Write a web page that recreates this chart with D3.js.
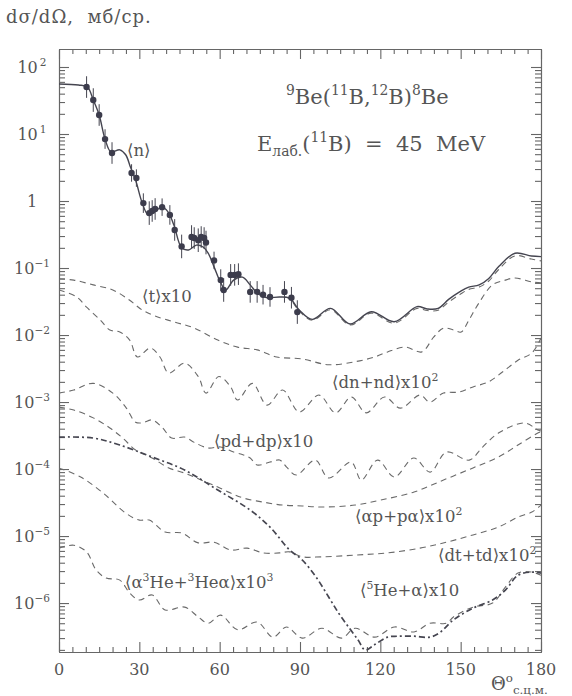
<!DOCTYPE html>
<html>
<head>
<meta charset="utf-8">
<script src="https://cdn.jsdelivr.net/npm/d3@7"></script>
<style>
  body { margin: 0; background: #fff; }
  svg { display: block; }
  text { font-family: "DejaVu Serif", "Liberation Serif", serif; fill: #555; }
  .axis path, .axis line { stroke: #666; stroke-width: 1.1; }
</style>
</head>
<body>
<svg id="chart"></svg>
<script>
// ---- data (theta in degrees c.m., cross sections in mb/sr) ----
const nTheta = [0, 7.3, 10.6, 12.8, 15.0, 17.2, 19.4, 22.7, 24.9, 26.7, 28.6, 31.1, 33.3, 35.5, 38.5, 40.7, 42.9, 45.8, 48.4, 51.3,
  53.8, 55.7, 57.9, 60.4, 62.3, 65.2, 68.5, 71.4, 74.4, 77.7, 82.4, 86.1, 89.7, 94.6, 101.4, 108.7, 116.6, 125.2, 133.7, 137.5,
  141.6, 145.5, 149.6, 153.0, 156.9, 160.5, 164.2, 170.3, 176.4, 180];
const nTotal = [55.7, 53.8, 50.2, 32.1, 19.2, 8.4, 5.4, 5.8, 4.9, 3.2, 2.06, 0.93, 0.62, 0.69, 0.81, 0.69, 0.44, 0.20, 0.186, 0.22,
  0.206, 0.167, 0.104, 0.060, 0.047, 0.066, 0.073, 0.056, 0.041, 0.036, 0.037, 0.0355, 0.0237, 0.0171, 0.025, 0.0146, 0.0223, 0.0158, 0.0265, 0.0245,
  0.025, 0.034, 0.044, 0.052, 0.056, 0.07, 0.105, 0.166, 0.151, 0.148];

const nPartTheta = [84.2, 86.1, 89.7, 94.6, 101.4, 108.7, 116.6, 125.2, 133.7, 137.5, 141.6, 145.5, 149.6, 153.0, 156.9, 160.5, 164.2, 170.3, 176.4, 180];
const nPart = [0.037, 0.035, 0.0228, 0.0166, 0.0238, 0.0141, 0.0212, 0.0150, 0.0250, 0.0232, 0.0235, 0.031, 0.040, 0.048, 0.052, 0.064, 0.095, 0.152, 0.136, 0.128];

const expTheta = [10.3, 12.8, 15.0, 17.2, 19.8, 27.1, 28.9, 31.5, 33.7, 34.8, 35.9, 38.5, 41.4, 43.2, 45.8, 49.5, 50.5, 52.0, 53.1, 54.2,
  54.9, 57.9, 60.4, 61.5, 64.1, 65.6, 67.0, 71.4, 74.0, 76.2, 78.8, 84.2, 86.8, 89.0];
const expValue = [50.2, 32.1, 19.2, 8.4, 5.2, 2.62, 2.20, 0.93, 0.66, 0.71, 0.76, 0.81, 0.62, 0.37, 0.21, 0.29, 0.28, 0.26, 0.29, 0.28,
  0.24, 0.13, 0.066, 0.047, 0.079, 0.079, 0.081, 0.044, 0.044, 0.040, 0.037, 0.044, 0.036, 0.022];
const expError = [0.45, 0.5, 0.45, 0.4, 0.45, 0.35, 0.35, 0.4, 0.5, 0.45, 0.45, 0.35, 0.4, 0.45, 0.5, 0.5, 0.45, 0.5, 0.45, 0.45,
  0.5, 0.35, 0.45, 0.5, 0.45, 0.45, 0.45, 0.45, 0.45, 0.4, 0.4, 0.45, 0.45, 0.5];

const tTheta = [0, 5.5, 12.8, 20.1, 26.4, 31.1, 35.9, 43.2, 50.5, 59.3, 66.7, 74.0, 81.3, 90.8, 100.7, 110.6, 117.9, 122.7, 129.3, 135.5,
  139.9, 143.6, 147.3, 150.2, 153.1, 156.8, 161.9, 166.7, 170.3, 176.6, 180];
const tValue = [0.0686, 0.066, 0.056, 0.047, 0.033, 0.0236, 0.0192, 0.0156, 0.0127, 0.0084, 0.0066, 0.0060, 0.0047, 0.0044, 0.0036, 0.0040, 0.0047, 0.0056, 0.0066, 0.0056,
  0.0093, 0.0127, 0.0119, 0.0111, 0.0168, 0.030, 0.056, 0.066, 0.071, 0.062, 0.060];

const dnTheta = [0, 6.6, 10.3, 15.4, 19.0, 22.7, 26.4, 29.3, 34.1, 37.7, 41.0, 46.9, 52.0, 54.9, 59.7, 64.1, 66.7, 72.2, 77.7, 83.5,
  89.7, 97.1, 103.3, 109.2, 114.7, 121.6, 127.5, 134.8, 138.5, 143.6, 149.5, 154.6, 160.4, 165.6, 171.4, 176.6, 180];
const dnValue = [0.047, 0.037, 0.026, 0.0168, 0.0119, 0.0111, 0.0084, 0.0047, 0.0064, 0.0047, 0.0027, 0.0038, 0.0024, 0.00136, 0.0024, 0.00168, 0.00107, 0.0019, 0.00090, 0.00151,
  0.00071, 0.00127, 0.00069, 0.00119, 0.00069, 0.00119, 0.00081, 0.00127, 0.00100, 0.00136, 0.00141, 0.00168, 0.0020, 0.0028, 0.0042, 0.0054, 0.0090];

const pdTheta = [0, 5.5, 12.8, 20.1, 24.9, 28.6, 31.1, 34.8, 38.5, 42.1, 46.9, 50.5, 55.7, 60.4, 65.2, 68.9, 71.4, 74.0, 78.8, 82.4,
  85.0, 88.6, 95.7, 100.7, 109.1, 112.9, 119.0, 125.2, 132.5, 138.6, 144.7, 153.2, 158.2, 164.1, 174.0, 178.8, 180];
const pdValue = [0.00136, 0.00151, 0.0019, 0.00136, 0.00084, 0.00050, 0.00049, 0.00054, 0.00042, 0.00029, 0.00030, 0.00025, 0.000206, 0.000213, 0.000179, 0.000162, 0.000146, 0.000115, 0.000127, 0.000136,
  0.000107, 0.0000813, 0.000136, 0.0000734, 0.000127, 0.0000686, 0.000136, 0.000076, 0.000146, 0.000090, 0.000179, 0.000136, 0.000213, 0.000344, 0.000486, 0.000382, 0.00037];

const apTheta = [0, 5.5, 12.8, 19.0, 23.8, 28.6, 34.8, 41.0, 46.9, 53.1, 59.3, 64.1, 68.9, 76.2, 83.5, 90.8, 98.2, 110.6, 120.1, 132.6,
  143.6, 154.6, 164.1, 171.4, 178.8, 180];
const apValue = [0.00084, 0.00076, 0.00058, 0.00041, 0.00029, 0.000192, 0.000146, 0.000104, 0.0000871, 0.0000686, 0.0000538, 0.0000438, 0.0000369, 0.0000321, 0.0000290, 0.0000281, 0.0000271, 0.0000290, 0.0000344, 0.0000454,
  0.0000686, 0.000104, 0.000151, 0.000228, 0.000344, 0.00036];

const dtTheta = [0, 8.1, 16.5, 24.9, 30.0, 33.7, 39.6, 45.8, 52.0, 57.9, 64.1, 70.3, 76.2, 82.4, 86.1, 90.8, 98.2, 110.6, 122.7, 134.8,
  144.7, 154.6, 164.1, 171.4, 176.6, 180];
const dtValue = [0.000104, 0.000076, 0.0000438, 0.0000220, 0.0000173, 0.0000173, 0.0000115, 0.0000111, 0.0000079, 0.0000081, 0.0000062, 0.0000066, 0.0000056, 0.0000056, 0.0000058, 0.0000049, 0.0000049, 0.0000052, 0.0000056, 0.0000066,
  0.0000081, 0.0000104, 0.0000136, 0.0000192, 0.0000228, 0.000029];

const he5Theta = [0, 12.8, 22.7, 34.8, 46.9, 59.3, 71.4, 78.8, 86.1, 90.8, 96.0, 100.7, 104.4, 108.1, 111.7, 114.3, 117.9, 122.7, 126.4, 132.6,
  138.5, 142.1, 147.3, 154.6, 161.9, 166.7, 171.4, 176.6, 180];
const he5Value = [0.00030, 0.00029, 0.000228, 0.000151, 0.0000966, 0.0000486, 0.0000244, 0.0000136, 0.0000062, 0.0000044, 0.00000244, 0.00000123, 7.1e-7, 4.4e-7, 2.8e-7, 2.0e-7, 2.4e-7, 3.1e-7, 3.2e-7, 3.2e-7,
  3.1e-7, 3.6e-7, 5.6e-7, 8.4e-7, 1.11e-6, 1.56e-6, 2.6e-6, 2.9e-6, 2.8e-6];

const a3Theta = [0, 5.5, 10.3, 13.9, 17.6, 22.7, 26.4, 30.0, 34.8, 39.6, 46.9, 52.0, 55.7, 60.4, 66.7, 74.0, 79.9, 85.0, 90.8, 98.2,
  105.5, 110.6, 117.9, 125.3, 132.6, 138.5, 144.7, 147.3, 154.6, 161.9, 166.7, 171.4, 176.6, 180];
const a3Value = [6.6e-6, 7.3e-6, 5.8e-6, 3.1e-6, 2.36e-6, 2.2e-6, 1.41e-6, 1.11e-6, 1.32e-6, 7.9e-7, 8.7e-7, 6.2e-7, 5.0e-7, 6.6e-7, 4.0e-7, 5.2e-7, 3.1e-7, 4.4e-7, 3.0e-7, 4.2e-7,
  3.0e-7, 4.2e-7, 3.1e-7, 4.4e-7, 3.7e-7, 5.0e-7, 5.0e-7, 6.2e-7, 8.7e-7, 1.0e-6, 1.73e-6, 2.8e-6, 2.9e-6, 2.6e-6];

const xTickLabels = [0, 30, 60, 90, 120, 150, 180];
const yDecades = [2, 1, 0, -1, -2, -3, -4, -5, -6];

class CrossSectionPlot {

  constructor(_config) {
    this.config = {
      parentElement: _config.parentElement,
      containerWidth: _config.containerWidth || 572,
      containerHeight: _config.containerHeight || 696,
      margin: _config.margin || {top: 49, right: 31, bottom: 44, left: 59}
    };
    this.initVis();
  }

  initVis() {
    let vis = this;

    vis.width = vis.config.containerWidth - vis.config.margin.left - vis.config.margin.right;
    vis.height = vis.config.containerHeight - vis.config.margin.top - vis.config.margin.bottom;

    vis.xScale = d3.scaleLinear()
        .domain([0, 180])
        .range([0, vis.width]);
    vis.yScale = d3.scaleLog()
        .domain([1.86e-7, 185.6])
        .range([vis.height, 0]);

    // minor ticks every 5 deg, 2..9 within each decade
    vis.xMinor = d3.range(0, 181, 5).filter(d => d % 30 !== 0);
    vis.yMinor = [];
    d3.range(-7, 3).forEach(k => {
      d3.range(2, 10).forEach(m => {
        const v = m * Math.pow(10, k);
        if (v > 1.86e-7 && v < 185.6) vis.yMinor.push(v);
      });
    });

    vis.svg = d3.select(vis.config.parentElement)
        .attr('width', vis.config.containerWidth)
        .attr('height', vis.config.containerHeight);

    vis.chart = vis.svg.append('g')
        .attr('transform', `translate(${vis.config.margin.left},${vis.config.margin.top})`);

    vis.svg.append('defs').append('clipPath')
        .attr('id', 'plot-clip')
      .append('rect')
        .attr('width', vis.width)
        .attr('height', vis.height);

    vis.line = d3.line()
        .x(d => vis.xScale(d[0]))
        .y(d => vis.yScale(d[1]))
        .curve(d3.curveCatmullRom.alpha(0.5));
  }

  richText(parent, x, y, parts, size) {
    const t = parent.append('text')
        .attr('x', x)
        .attr('y', y)
        .attr('font-size', size);
    let shift = 0;
    parts.forEach(([s, mode]) => {
      const target = mode === 'sup' ? -0.42 * size : mode === 'sub' ? 0.22 * size : 0;
      t.append('tspan')
          .attr('dy', target - shift)
          .attr('font-size', mode === 'n' ? size : size * 0.66)
          .text(s);
      shift = target;
    });
    return t;
  }

  renderVis() {
    let vis = this;
    const decadeVals = yDecades.map(k => Math.pow(10, k));

    // axes, ticks pointing inward on all four sides
    const axes = [
      [d3.axisBottom(vis.xScale).tickValues(xTickLabels).tickSize(-10), `translate(0,${vis.height})`],
      [d3.axisBottom(vis.xScale).tickValues(vis.xMinor).tickSize(-5), `translate(0,${vis.height})`],
      [d3.axisTop(vis.xScale).tickValues(xTickLabels).tickSize(-10), null],
      [d3.axisTop(vis.xScale).tickValues(vis.xMinor).tickSize(-5), null],
      [d3.axisLeft(vis.yScale).tickValues(decadeVals).tickSize(-10), null],
      [d3.axisLeft(vis.yScale).tickValues(vis.yMinor).tickSize(-6), null],
      [d3.axisRight(vis.yScale).tickValues(decadeVals).tickSize(-10), `translate(${vis.width},0)`],
      [d3.axisRight(vis.yScale).tickValues(vis.yMinor).tickSize(-6), `translate(${vis.width},0)`]
    ];
    axes.forEach(([axis, tr]) => {
      const g = vis.chart.append('g').attr('class', 'axis');
      if (tr) g.attr('transform', tr);
      g.call(axis.tickSizeOuter(0).tickFormat(''));
      g.selectAll('text').remove();
    });

    // x tick labels
    vis.chart.selectAll('.x-label')
        .data(xTickLabels)
      .join('text')
        .attr('class', 'x-label')
        .attr('x', d => vis.xScale(d))
        .attr('y', vis.height + 23)
        .attr('text-anchor', 'middle')
        .attr('font-size', 16)
        .text(d => d);

    // y tick labels: 10^k
    yDecades.forEach(k => {
      const yy = vis.yScale(Math.pow(10, k)) + 6;
      let t;
      if (k === 0) {
        t = vis.richText(vis.chart, -27, yy, [['1', 'n']], 16);
      } else if (k > 0) {
        t = vis.richText(vis.chart, -27, yy, [['10', 'n'], ['\u2009' + k, 'sup']], 16);
      } else {
        t = vis.richText(vis.chart, -27, yy, [['10', 'n'], ['\u2212' + (-k), 'sup']], 16);
      }
      t.attr('text-anchor', 'middle');
    });

    const plot = vis.chart.append('g').attr('clip-path', 'url(#plot-clip)');

    const series = [
      {theta: tTheta, value: tValue, style: 'dash'},
      {theta: dnTheta, value: dnValue, style: 'dash'},
      {theta: pdTheta, value: pdValue, style: 'dash'},
      {theta: apTheta, value: apValue, style: 'dash'},
      {theta: dtTheta, value: dtValue, style: 'dash'},
      {theta: a3Theta, value: a3Value, style: 'dash'},
      {theta: he5Theta, value: he5Value, style: 'dashdot'},
      {theta: nPartTheta, value: nPart, style: 'dash'},
      {theta: nTheta, value: nTotal, style: 'solid'}
    ];

    plot.selectAll('.curve')
        .data(series)
      .join('path')
        .attr('class', 'curve')
        .attr('fill', 'none')
        .attr('stroke', d => d.style === 'dash' ? '#6a6a6a' : '#454550')
        .attr('stroke-width', d => d.style === 'solid' ? 1.4 : d.style === 'dashdot' ? 1.7 : 1.1)
        .attr('stroke-dasharray', d => d.style === 'dash' ? '6,4.5' : d.style === 'dashdot' ? '6,3,2,3' : null)
        .attr('d', d => vis.line(d3.zip(d.theta, d.value)));

    // experimental points with error bars
    const points = d3.zip(expTheta, expValue, expError);
    plot.selectAll('.err')
        .data(points)
      .join('line')
        .attr('class', 'err')
        .attr('x1', d => vis.xScale(d[0]))
        .attr('x2', d => vis.xScale(d[0]))
        .attr('y1', d => vis.yScale(d[1] * (1 + d[2])))
        .attr('y2', d => vis.yScale(d[1] / (1 + d[2])))
        .attr('stroke', '#454550')
        .attr('stroke-width', 1);
    plot.selectAll('.pt')
        .data(points)
      .join('circle')
        .attr('class', 'pt')
        .attr('cx', d => vis.xScale(d[0]))
        .attr('cy', d => vis.yScale(d[1]))
        .attr('r', 3.2)
        .attr('fill', '#3c3c4c');

    // curve labels (page pixel positions)
    const lab = vis.svg.append('g');
    const L = '\u27E8', R = '\u27E9';
    const fs = 16.5;
    vis.richText(lab, 127, 156, [[L + 'n' + R, 'n']], fs);
    vis.richText(lab, 142, 302, [[L + 't' + R + 'x10', 'n']], fs);
    vis.richText(lab, 332, 388, [[L + 'dn+nd' + R + 'x10', 'n'], ['2', 'sup']], fs);
    vis.richText(lab, 214, 447, [[L + 'pd+dp' + R + 'x10', 'n']], fs);
    vis.richText(lab, 355, 522, [[L + '\u03B1p+p\u03B1' + R + 'x10', 'n'], ['2', 'sup']], fs);
    vis.richText(lab, 438, 561, [[L + 'dt+td' + R + 'x10', 'n'], ['2', 'sup']], fs);
    vis.richText(lab, 360, 596, [[L, 'n'], ['5', 'sup'], ['He+\u03B1' + R + 'x10', 'n']], fs);
    vis.richText(lab, 125, 588, [[L + '\u03B1', 'n'], ['3', 'sup'], ['He+', 'n'], ['3', 'sup'], ['He\u03B1' + R + 'x10', 'n'], ['3', 'sup']], fs);

    vis.richText(lab, 286, 104, [['9', 'sup'], ['Be(', 'n'], ['11', 'sup'], ['B,', 'n'], ['12', 'sup'], ['B)', 'n'], ['8', 'sup'], ['Be', 'n']], 21);
    vis.richText(lab, 257, 151, [['E', 'n'], ['\u043B\u0430\u0431.', 'sub'], ['(', 'n'], ['11', 'sup'], ['B)  =  45  MeV', 'n']], 21)
        .style('white-space', 'pre');

    // axis titles
    vis.richText(vis.svg, 6, 23, [['d\u03C3/d\u03A9,  \u043C\u0431/\u0441\u0440.', 'n']], 18)
        .style('white-space', 'pre')
        .attr('letter-spacing', 1);
    vis.richText(vis.svg, 491, 690, [['\u0398', 'n'], ['o', 'sup'], ['\u0441.\u0446.\u043C.', 'sub']], 18);
  }
}

const plot = new CrossSectionPlot({parentElement: '#chart'});
plot.renderVis();
</script>
</body>
</html>
